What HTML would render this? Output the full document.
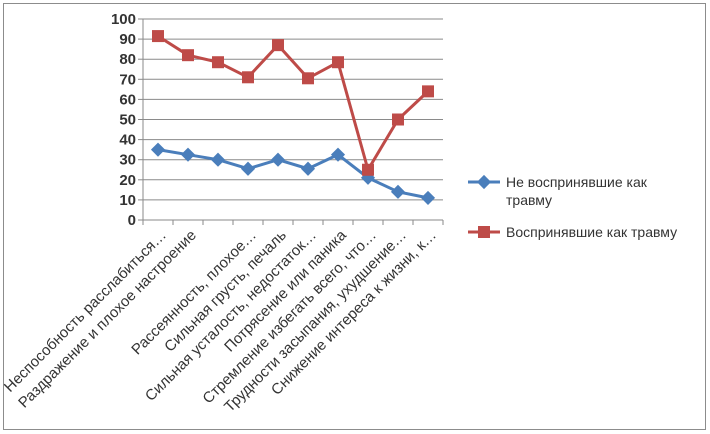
<!DOCTYPE html>
<html><head><meta charset="utf-8"><style>
body{margin:0;background:#fff;}
svg{display:block;font-family:"Liberation Sans","DejaVu Sans",sans-serif;}
</style></head><body>
<svg id="chart" width="710" height="434">
<rect x="3.5" y="3.5" width="702" height="426" fill="#fff" stroke="#8c8c8c"/>
<g id="grid"></g><g id="axes"></g><g id="series"></g><g id="legend"></g>
</svg>
<script>
const categories=["Неспособность расслабиться…","Раздражение и плохое настроение","","Рассеянность, плохое…","Сильная грусть, печаль","Сильная усталость, недостаток…","Потрясение или паника","Стремление избегать всего, что…","Трудности засыпания, ухудшение…","Снижение интереса к жизни, к…"];
const notTrauma=[35,32.5,30,25.5,30,25.5,32.5,21,14,11];
const trauma=[91.5,82,78.5,71,87,70.5,78.5,25,50,64];
const yTicks=[0,10,20,30,40,50,60,70,80,90,100];
const seriesNames=["Не воспринявшие как травму","Воспринявшие как травму"];
const NS="http://www.w3.org/2000/svg";
const x0=143,x1=443,y0=220,y1=19;
const xs=i=>x0+(i+0.5)*(x1-x0)/categories.length;
const ys=v=>y0-(v/100)*(y0-y1);
function mk(t,a,p){const e=document.createElementNS(NS,t);for(const k in a)e.setAttribute(k,a[k]);p.appendChild(e);return e;}
const grid=document.getElementById('grid'),axes=document.getElementById('axes'),ser=document.getElementById('series'),leg=document.getElementById('legend');
yTicks.forEach(v=>{
 if(v>0){const l=mk('line',{x1:x0,x2:x1,y1:ys(v),y2:ys(v),stroke:'#8a8a8a','stroke-width':1},grid);
 
 }
 const t=mk('text',{x:136,y:ys(v)+5,'text-anchor':'end','font-size':15,'font-weight':'bold',fill:'#333'},axes);t.textContent=v;
 
 
 mk('line',{x1:x0-5,x2:x0,y1:ys(v),y2:ys(v),stroke:'#8a8a8a'},axes);
});
let a=mk('line',{x1:x0,x2:x0,y1:y1,y2:y0,stroke:'#8a8a8a'},axes);


a=mk('line',{x1:x0,x2:x1,y1:y0,y2:y0,stroke:'#8a8a8a'},axes);


for(let i=0;i<=categories.length;i++){const xx=x0+i*(x1-x0)/categories.length;mk('line',{x1:xx,x2:xx,y1:y0,y2:y0+5,stroke:'#8a8a8a'},axes);}
categories.forEach((c,i)=>{
 if(!c)return;
 const X=xs(i)+9,Y=236;
 const t=mk('text',{x:X,y:Y,'text-anchor':'end','font-size':15,fill:'#333',transform:`rotate(-45 ${X} ${Y})`},axes);t.textContent=c;
 
 
});
function drawSeries(vals,color,shape,name){
 const g=mk('g',{},ser);
 
 
 mk('polyline',{points:vals.map((v,i)=>xs(i)+','+ys(v)).join(' '),fill:'none',stroke:color,'stroke-width':3},g);
 vals.forEach((v,i)=>{
  let m;
  if(shape==='d'){m=mk('rect',{x:xs(i)-5,y:ys(v)-5,width:10,height:10,fill:color,transform:`rotate(45 ${xs(i)} ${ys(v)})`},g);}
  else{m=mk('rect',{x:xs(i)-6,y:ys(v)-6,width:12,height:12,fill:color},g);}
  
  
 });
}
drawSeries(notTrauma,'#4a7ebb','d','series-not-trauma');
drawSeries(trauma,'#be4b48','s','series-trauma');
let lg=mk('g',{},leg);


mk('line',{x1:468,x2:500,y1:182,y2:182,stroke:'#4a7ebb','stroke-width':3},lg);
mk('rect',{x:479,y:177,width:10,height:10,fill:'#4a7ebb',transform:'rotate(45 484 182)'},lg);
let t=mk('text',{x:506,y:187,'font-size':14,fill:'#333'},lg);t.textContent='Не воспринявшие как';
t=mk('text',{x:506,y:205,'font-size':14,fill:'#333'},lg);t.textContent='травму';
lg=mk('g',{},leg);


mk('line',{x1:468,x2:500,y1:232,y2:232,stroke:'#be4b48','stroke-width':3},lg);
mk('rect',{x:478,y:226,width:12,height:12,fill:'#be4b48'},lg);
t=mk('text',{x:506,y:237,'font-size':14,fill:'#333'},lg);t.textContent='Воспринявшие как травму';
</script>
</body></html>
